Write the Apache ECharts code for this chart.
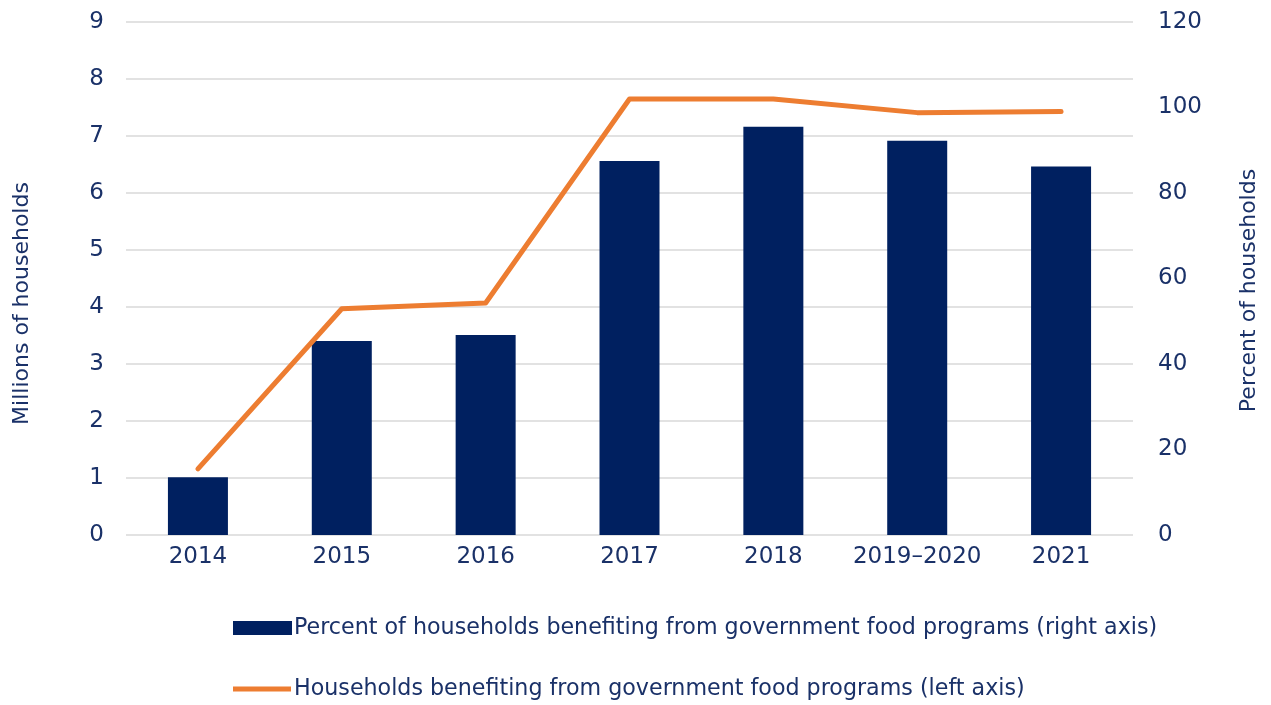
<!DOCTYPE html>
<html>
<head>
<meta charset="utf-8">
<script src="https://cdn.jsdelivr.net/npm/echarts@6/dist/echarts.min.js"></script>
<style>html,body{margin:0;padding:0;background:#fff}#c{width:1271px;height:705px}</style>
</head>
<body>
<div id="c"></div>
<script>
const categories = ['2014', '2015', '2016', '2017', '2018', '2019\u20132020', '2021'];
const percentHouseholds = [13.5, 45.4, 46.8, 87.5, 95.5, 92.2, 86.2];
const millionsHouseholds = [1.16, 3.97, 4.07, 7.65, 7.65, 7.41, 7.43];
const leftTicks = { min: 0, max: 9, interval: 1 };
const rightTicks = { min: 0, max: 120, interval: 20 };
const barName = 'Percent of households benefiting from government food programs (right axis)';
const lineName = 'Households benefiting from government food programs (left axis)';

const navy = '#002060';
const orange = '#ED7D31';
const textColor = '#1a3168';
const font = 'DejaVu Sans';

const chart = echarts.init(document.getElementById('c'));
chart.setOption({
  backgroundColor: '#fff',
  animation: false,
  textStyle: { fontFamily: font, color: textColor },
  grid: { left: 126, right: 138, top: 22, bottom: 170 },
  legend: [
    {
      data: [{ name: barName, icon: 'rect' }],
      left: 228, top: 612, itemWidth: 59, itemHeight: 14, itemGap: 0,
      textStyle: { fontFamily: font, fontSize: 22.2, color: textColor, padding: [0, 0, 0, -3] }
    },
    {
      data: [{ name: lineName, icon: 'rect' }],
      left: 228, top: 673, itemWidth: 58, itemHeight: 5, itemGap: 0,
      textStyle: { fontFamily: font, fontSize: 22.2, color: textColor, padding: [0, 0, 0, -2] }
    }
  ],
  xAxis: {
    type: 'category',
    data: categories,
    axisLine: { show: false },
    axisTick: { show: false },
    axisLabel: { fontFamily: font, fontSize: 23, color: textColor, margin: 11, interval: 0 }
  },
  yAxis: [
    {
      type: 'value', position: 'left',
      min: leftTicks.min, max: leftTicks.max, interval: leftTicks.interval,
      name: 'Millions of households', nameLocation: 'middle', nameRotate: 90, nameGap: 93,
      nameTextStyle: { fontFamily: font, fontSize: 22, color: textColor, padding: [0, 50, 0, 0] },
      axisLine: { show: false }, axisTick: { show: false },
      axisLabel: { fontFamily: font, fontSize: 23, color: textColor, margin: 22 },
      splitLine: { lineStyle: { color: '#d9d9d9', width: 1.5 } }
    },
    {
      type: 'value', position: 'right',
      min: rightTicks.min, max: rightTicks.max, interval: rightTicks.interval,
      name: 'Percent of households', nameLocation: 'middle', nameRotate: 90, nameGap: 105,
      nameTextStyle: { fontFamily: font, fontSize: 22, color: textColor, padding: [0, 24, 0, 0] },
      axisLine: { show: false }, axisTick: { show: false },
      axisLabel: { fontFamily: font, fontSize: 23, color: textColor, margin: 25 },
      splitLine: { show: false }
    }
  ],
  series: [
    {
      name: barName, type: 'bar', yAxisIndex: 1, data: percentHouseholds,
      barWidth: 60, itemStyle: { color: navy }
    },
    {
      name: lineName, type: 'line', yAxisIndex: 0, data: millionsHouseholds,
      symbol: 'none', lineStyle: { color: orange, width: 5, cap: 'round', join: 'round' },
      itemStyle: { color: orange }
    }
  ]
});
</script>
</body>
</html>
